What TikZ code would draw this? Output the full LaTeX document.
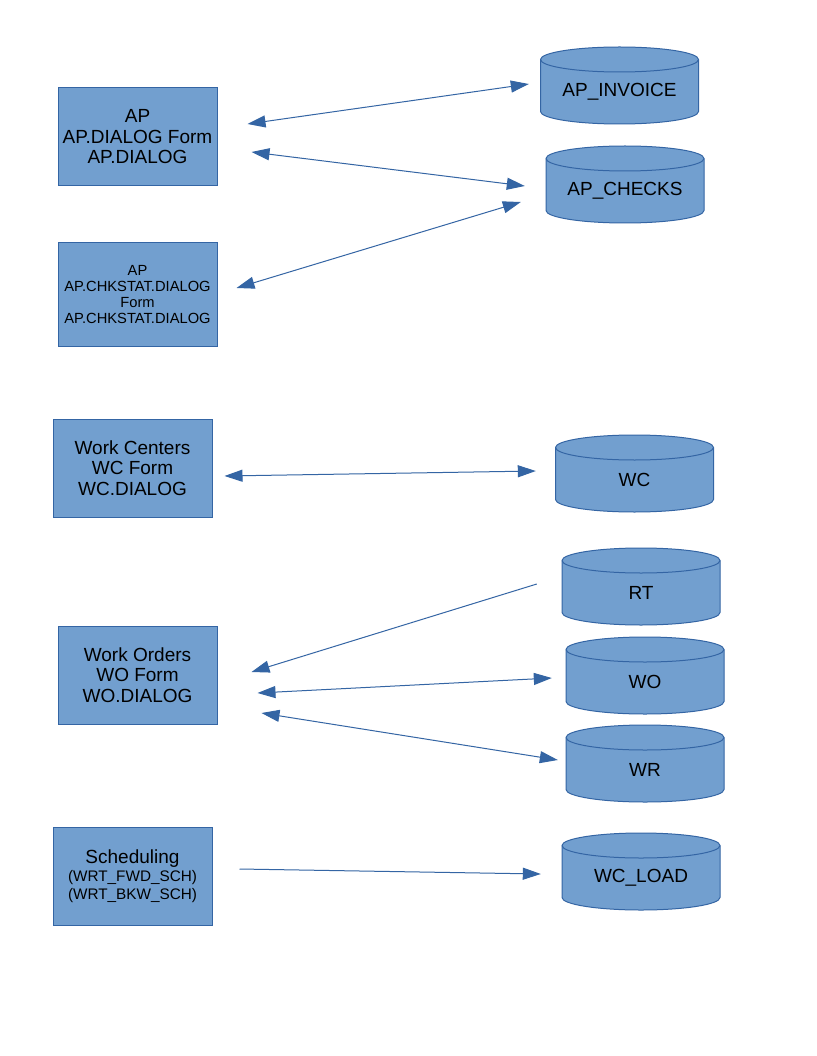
\documentclass[tikz,border=0pt]{standalone}
\usepackage{fontspec}
\setmainfont{Liberation Sans}
\usetikzlibrary{arrows.meta}
\definecolor{boxfill}{HTML}{729FCF}
\definecolor{boxline}{HTML}{3465A4}
\newcommand{\bigtxt}{\fontsize{19}{20.5}\selectfont}
\newcommand{\smalltxt}{\fontsize{14.7}{15.8}\selectfont}
\newcommand{\subtxt}{\fontsize{15.3}{16.5}\selectfont}
% cylinder: #1 name, #2 centre x, #3 top y (pixels, downward), #4 label
\newcommand{\dbcyl}[4]{%
  \filldraw[cylline] (#2-79,-#3-12.5) -- (#2-79,-#3-64.5)
    arc[start angle=180,end angle=360,x radius=79pt,y radius=12.5pt]
    -- (#2+79,-#3-12.5)
    arc[start angle=0,end angle=180,x radius=79pt,y radius=12.5pt] -- cycle;
  \draw[boxline,line width=1pt] (#2-79,-#3-12.5)
    arc[start angle=180,end angle=360,x radius=79pt,y radius=12.5pt];
  \node[cylbody] (#1) at (#2,-#3-44.5) {#4};%
}
\tikzset{
  formbox/.style={draw=boxline,fill=boxfill,line width=1pt,align=center,
    minimum width=159pt,minimum height=98pt,inner sep=0pt,font=\bigtxt},
  cylline/.style={draw=boxline,fill=boxfill,line width=1pt},
  cylbody/.style={minimum width=158pt,minimum height=65pt,inner sep=0pt,font=\bigtxt},
  link/.style={draw=boxline,line width=1pt,
    -{Triangle[length=18pt,width=12pt]}},
  dlink/.style={draw=boxline,line width=1pt,
    {Triangle[length=18pt,width=12pt]}-{Triangle[length=18pt,width=12pt]}}
}
\begin{document}
\begin{tikzpicture}[x=1pt,y=1pt]
\fill[white] (0,0) rectangle (816,-1056);
\useasboundingbox (0,0) rectangle (816,-1056);

% forms
\node[formbox] (ap) at (137.5,-137) {AP\\AP.DIALOG Form\\AP.DIALOG};
\node[formbox,minimum height=103pt,font=\smalltxt] (chk) at (137.5,-294.5)
  {AP\\AP.CHKSTAT.DIALOG\\Form\\AP.CHKSTAT.DIALOG};
\node[formbox] (wcf) at (132.5,-468) {Work Centers\\WC Form\\WC.DIALOG};
\node[formbox] (wof) at (137.5,-675) {Work Orders\\WO Form\\WO.DIALOG};
\node[formbox] (sch) at (132.5,-876)
  {Scheduling\\[-2pt]{\subtxt(WRT\_FWD\_SCH)}\\[-3pt]{\subtxt(WRT\_BKW\_SCH)}};

% tables
\dbcyl{apinv}{619.5}{47}{AP\_INVOICE}
\dbcyl{apchk}{625}{146}{AP\_CHECKS}
\dbcyl{wc}{634.5}{435}{WC}
\dbcyl{rt}{641}{548}{RT}
\dbcyl{wo}{645}{637}{WO}
\dbcyl{wr}{645}{725}{WR}
\dbcyl{wcl}{641}{833}{WC\_LOAD}

% connectors
\draw[dlink] ([xshift=30pt,yshift=13pt]ap.east) -- ([xshift=-11.5pt,yshift=7.5pt]apinv.west);
\draw[dlink] ([xshift=34pt,yshift=-15pt]ap.east) -- ([xshift=-21pt,yshift=4.5pt]apchk.west);
\draw[dlink] ([xshift=19pt,yshift=6.5pt]chk.east) -- ([xshift=-25pt,yshift=-11.5pt]apchk.west);
\draw[dlink] ([xshift=12pt,yshift=-8pt]wcf.east) -- ([xshift=-19.5pt,yshift=8.5pt]wc.west);
\draw[link] ([xshift=-25pt,yshift=8.5pt]rt.west) -- ([xshift=34pt,yshift=3pt]wof.east);
\draw[dlink] ([xshift=40pt,yshift=-18pt]wof.east) -- ([xshift=-14pt,yshift=3.5pt]wo.west);
\draw[dlink] ([xshift=44pt,yshift=-38pt]wof.east) -- ([xshift=-8pt,yshift=9.5pt]wr.west);
\draw[link] ([xshift=27pt,yshift=7pt]sch.east) -- ([xshift=-21pt,yshift=3.5pt]wcl.west);
\end{tikzpicture}
\end{document}
